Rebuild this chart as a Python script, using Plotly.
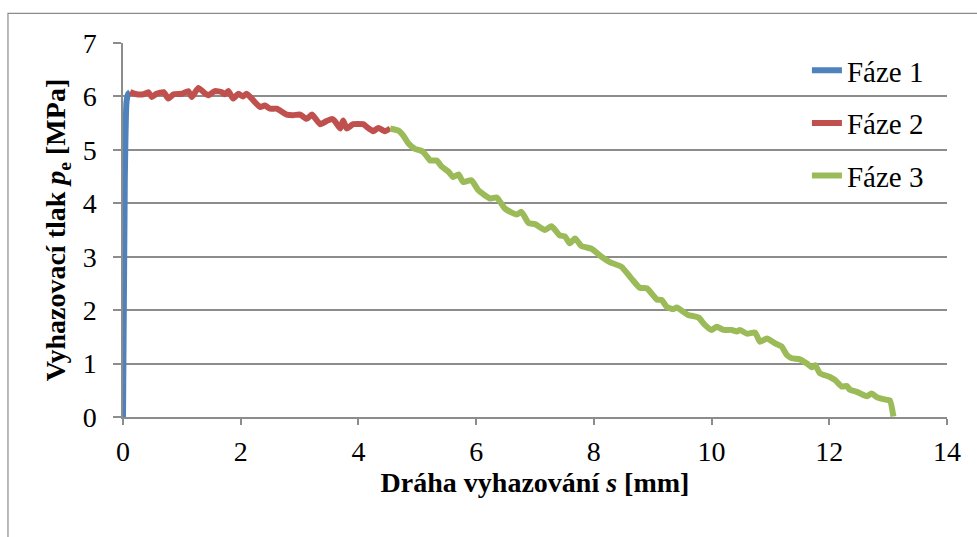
import plotly.graph_objects as go

# Fáze 1
s1 = [0.0, 0.03, 0.06, 0.09, 0.12]
p1 = [0.0, 4.4, 5.9, 6.05, 6.08]

# Fáze 2
s2 = [0.12, 0.23, 0.35, 0.43, 0.49, 0.57, 0.69, 0.77, 0.86, 1.00, 1.11, 1.17, 1.28, 1.37, 1.45,
      1.56, 1.68, 1.73, 1.79, 1.87, 1.96, 2.04, 2.10, 2.21, 2.33, 2.41, 2.50, 2.61, 2.78, 2.89,
      3.01, 3.12, 3.21, 3.35, 3.46, 3.55, 3.60, 3.69, 3.74, 3.80, 3.91, 4.08, 4.14, 4.25, 4.34,
      4.45, 4.54]
p2 = [6.08, 6.04, 6.04, 6.08, 5.99, 6.05, 6.08, 5.96, 6.04, 6.05, 6.10, 5.99, 6.16, 6.08, 6.02,
      6.10, 6.08, 6.04, 6.10, 5.96, 6.05, 6.00, 6.05, 5.93, 5.80, 5.83, 5.77, 5.77, 5.66, 5.65,
      5.66, 5.58, 5.66, 5.48, 5.54, 5.58, 5.54, 5.40, 5.55, 5.40, 5.48, 5.48, 5.43, 5.35, 5.41,
      5.35, 5.40]

# Fáze 3
s3 = [4.54, 4.68, 4.76, 4.85, 4.96, 5.05, 5.10, 5.19, 5.22, 5.33, 5.41, 5.53, 5.61, 5.70, 5.78,
      5.92, 6.04, 6.24, 6.35, 6.49, 6.69, 6.77, 6.89, 7.00, 7.17, 7.28, 7.42, 7.51, 7.59, 7.68,
      7.79, 7.96, 8.13, 8.27, 8.47, 8.64, 8.78, 8.90, 9.07, 9.15, 9.24, 9.35, 9.41, 9.52, 9.60,
      9.69, 9.78, 9.89, 10.00, 10.09, 10.20, 10.34, 10.43, 10.48, 10.60, 10.74, 10.82, 10.94,
      11.08, 11.19, 11.28, 11.36, 11.50, 11.62, 11.70, 11.76, 11.84, 12.01, 12.10, 12.21, 12.30,
      12.35, 12.47, 12.64, 12.72, 12.81, 12.98, 13.03, 13.09]
p3 = [5.40, 5.36, 5.27, 5.12, 5.02, 4.99, 4.96, 4.84, 4.80, 4.80, 4.69, 4.59, 4.49, 4.54, 4.40,
      4.43, 4.24, 4.09, 4.11, 3.90, 3.79, 3.84, 3.63, 3.61, 3.50, 3.57, 3.40, 3.38, 3.25, 3.34,
      3.20, 3.15, 3.00, 2.90, 2.81, 2.59, 2.42, 2.41, 2.20, 2.19, 2.06, 2.02, 2.05, 1.97, 1.91,
      1.89, 1.86, 1.72, 1.63, 1.69, 1.63, 1.63, 1.60, 1.63, 1.56, 1.58, 1.41, 1.47,
      1.38, 1.32, 1.16, 1.10, 1.08, 1.00, 0.93, 0.97, 0.82, 0.75, 0.69, 0.57, 0.58,
      0.51, 0.47, 0.39, 0.44, 0.37, 0.32, 0.31, 0.01]

names = ["Fáze 1", "Fáze 2", "Fáze 3"]
colors = ["#4F81BD", "#C0504D", "#9BBB59"]

FONT = "Liberation Serif"
fig = go.Figure()
for i, (xs, ys) in enumerate([(s1, p1), (s2, p2), (s3, p3)]):
    fig.add_trace(go.Scatter(x=xs, y=ys, mode="lines", name=names[i], legendgroup=str(i),
                             line=dict(color=colors[i], width=6, shape="spline", smoothing=0.5)))

grid = "#8C8C8C"
fig.update_layout(
    width=977, height=537,
    margin=dict(l=123, r=30, t=43, b=120),
    paper_bgcolor="white", plot_bgcolor="white",
    font=dict(family=FONT, size=28, color="black"),
    showlegend=True,
    legend=dict(x=0.83, y=0.995, xanchor="left", yanchor="top", bgcolor="rgba(0,0,0,0)",
                font=dict(family=FONT, size=29), traceorder="grouped", tracegroupgap=12,
                itemwidth=30),
    xaxis=dict(range=[0, 14], dtick=2, tick0=0, showgrid=False, zeroline=False,
               showline=True, linecolor=grid, linewidth=1.5, ticks="outside", ticklen=6,
               tickcolor=grid, tickwidth=1.5, ticklabelstandoff=3,
               title=dict(text="<b>Dráha vyhazování <i>s</i> [mm]</b>", font=dict(size=28),
                          standoff=6)),
    yaxis=dict(range=[0, 7], dtick=1, tick0=0, showgrid=True, gridcolor=grid, gridwidth=1.5,
               zeroline=False, showline=True, linecolor=grid, linewidth=1.5, ticks="outside",
               ticklen=8, tickcolor=grid, tickwidth=1.5, ticklabelstandoff=11,
               title=dict(text="<b>Vyhazovací tlak <i>p</i><sub>e</sub> [MPa]</b>",
                          font=dict(size=28), standoff=9)),
    shapes=[dict(type="rect", xref="paper", yref="paper", x0=-0.1396, x1=1.05,
                 y0=-0.4, y1=1.0793, line=dict(color="#8C8C8C", width=1.2),
                 fillcolor="rgba(0,0,0,0)", layer="below")],
)
fig.write_html("out.html")
